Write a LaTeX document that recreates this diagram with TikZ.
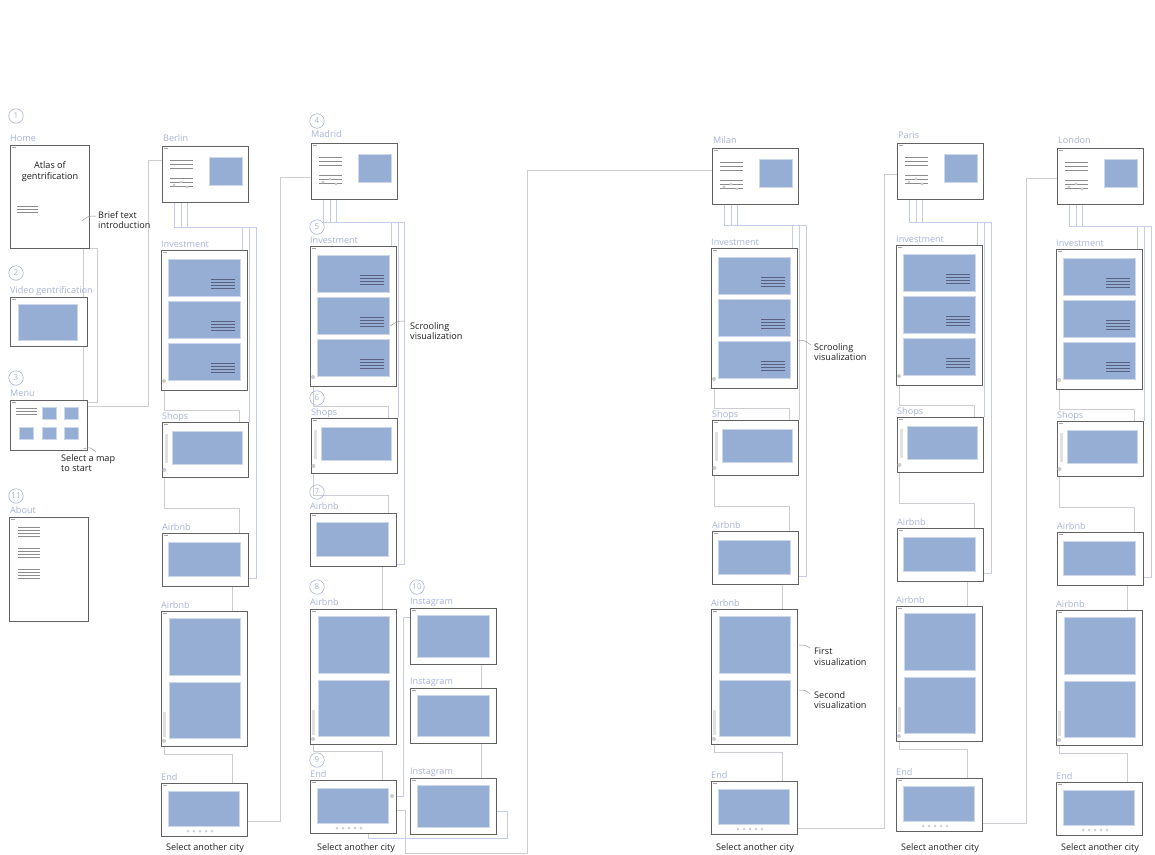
\documentclass[tikz,border=0pt]{standalone}
\usepackage{fontspec}
\setmainfont{Open Sans}
\usetikzlibrary{shadows,calc}
\pgfdeclarelayer{bg}
\pgfsetlayers{bg,main}
\definecolor{wfblue}{RGB}{151,174,212}
\definecolor{wfbedge}{RGB}{205,215,236}
\definecolor{wflabel}{RGB}{168,178,214}
\definecolor{wflav}{RGB}{198,204,232}
\definecolor{wfgray}{RGB}{204,204,210}
\definecolor{wfdark}{RGB}{88,98,128}
\tikzset{
  wf/.style={draw=black!62, line width=0.7pt, fill=white, anchor=north west, inner sep=0pt, outer sep=0pt,
    drop shadow={shadow xshift=1.2pt, shadow yshift=-1.2pt, opacity=0.35, fill=black!70}},
  panel/.style={fill=wfblue, draw=wfbedge, line width=0.5pt},
  tline/.style={draw=black!45, line width=0.5pt},
  dline/.style={draw=wfdark, line width=0.55pt},
  conn/.style={draw=wfgray, line width=0.6pt},
  connb/.style={draw=wflav, line width=0.6pt},
  lead/.style={draw=black!40, line width=0.5pt},
  lab/.style={text=wflabel, font=\fontsize{9.1}{10}\selectfont, anchor=base west, inner sep=0pt},
  note/.style={text=black!88, font=\fontsize{9.1}{10.5}\selectfont, anchor=north west, inner sep=0pt, align=left},
  num/.style={circle, draw=wflabel, text=wflabel, minimum size=14.5pt, inner sep=0pt, line width=0.6pt, font=\fontsize{8}{9}\selectfont},
  sdot/.style={fill=black!20},
  sbar/.style={fill=black!12},
}
% generic frame
\newcommand\wfbox[5]{%
  \node[wf, minimum width=#4pt, minimum height=#5pt] (#1) at (#2,#3) {};
  \draw[black!35, line width=0.4pt] ($(#2,#3)+(2,2.5)$) -- ++(4,0);
}
\newcommand\wfhead[3]{%
  \wfbox{#1}{#2}{#3}{86}{56}
  \begin{scope}[shift={(#2,#3)}]
    \foreach \yy in {14,18,22,32,36,40} \draw[tline] (8,\yy) -- (31,\yy);
    \draw[panel] (47,11) rectangle (80,39);
    \fill[sdot] (12,39) circle[radius=1.6] (19,36) circle[radius=1.6] (25,41) circle[radius=1.6];
  \end{scope}
}
\newcommand\wfinv[3]{%
  \wfbox{#1}{#2}{#3}{86}{140}
  \begin{scope}[shift={(#2,#3)}]
    \foreach \py in {9,51,93}{
      \draw[panel] (7,\py) rectangle (79,\py+37);
      \foreach \ly in {20,23,26,29} \draw[dline] (50,\py+\ly) -- (74,\py+\ly);
    }
    \fill[sdot] (3,131) circle[radius=2];
  \end{scope}
}
\newcommand\wfshop[3]{%
  \wfbox{#1}{#2}{#3}{86}{55}
  \begin{scope}[shift={(#2,#3)}]
    \fill[sbar] (2.5,12) rectangle (5.5,41);
    \draw[panel] (10,9) rectangle (80,42);
    \fill[sdot] (2.5,48) circle[radius=2];
  \end{scope}
}
\newcommand\wfabs[3]{%
  \wfbox{#1}{#2}{#3}{86}{53}
  \begin{scope}[shift={(#2,#3)}]
    \draw[panel] (6,9) rectangle (78,43);
  \end{scope}
}
\newcommand\wfabt[3]{%
  \wfbox{#1}{#2}{#3}{86}{135}
  \begin{scope}[shift={(#2,#3)}]
    \draw[panel] (8,7) rectangle (79,64);
    \draw[panel] (8,71) rectangle (79,127);
    \fill[sbar] (2,101) rectangle (5,126);
    \fill[sdot] (3,130) circle[radius=2];
  \end{scope}
}
\newcommand\wfend[3]{%
  \wfbox{#1}{#2}{#3}{86}{53}
  \begin{scope}[shift={(#2,#3)}]
    \draw[panel] (7,8) rectangle (78,43);
    \foreach \dx in {27,33,39,45,51} \fill[black!18] (\dx,48) circle[radius=1.5];
  \end{scope}
}
\newcommand\wfinsta[4]{% name x y h
  \wfbox{#1}{#2}{#3}{86}{#4}
  \begin{scope}[shift={(#2,#3)}]
    \draw[panel] (7,7) rectangle (79,#4-7);
  \end{scope}
}
% standard city column (Berlin geometry as base)
\newcommand\wfcol[5]{%
\begin{scope}[shift={(#3,#4)}]
  \begin{scope}[shift={(0,#5)}]
    \node[lab] (#1l0) at (163,141) {#2};
    \wfhead{#1h}{162}{146}
  \end{scope}
  \node[lab] (#1l1) at (161,247) {Investment};
  \wfinv{#1i}{161}{250}
  \node[lab] (#1l2) at (162,419) {Shops};
  \wfshop{#1s}{162}{422}
  \node[lab] (#1l3) at (162,530) {Airbnb};
  \wfabs{#1a}{162}{533}
  \node[lab] (#1l4) at (161,608) {Airbnb};
  \wfabt{#1b}{161}{611}
  \node[lab] (#1l5) at (161,780) {End};
  \wfend{#1e}{161}{783}
  \node[note, anchor=base] (#1sel) at (205,{850-(#4)}) {Select another city};
  \begin{pgfonlayer}{bg}
    \draw[connb] (174,185+#5) -- (174,227) -- (242,227) -- (242,250);
    \draw[connb] (181,182+#5) -- (181,227) -- (249,227) -- (249,422);
    \draw[connb] (187,187+#5) -- (187,227) -- (256,227) -- (256,578) -- (247,578);
    \draw[conn] (164,381) -- (164,410) -- (239,410) -- (239,422);
    \draw[conn] (164,470) -- (164,508) -- (239,508) -- (239,533);
    \draw[conn] (232,586) -- (232,611);
    \draw[conn] (164,741) -- (164,754) -- (232,754) -- (232,783);
  \end{pgfonlayer}
\end{scope}}

\begin{document}
\begin{tikzpicture}[x=1pt,y=-1pt]
\useasboundingbox (0,0) rectangle (1155,854);

% ---------- left column ----------
\node[num] (n1) at (16,116) {1};
\node[lab] (lhome) at (10,141) {Home};
\wfbox{home}{10}{145}{79}{103}
\node[font=\fontsize{9.1}{11}\selectfont, align=center, text=black!90, inner sep=0pt] (atlas) at (50,172) {Atlas of\\gentrification};
\foreach \yy in {206,209,212} \draw[tline] (17,\yy) -- (38,\yy);
\node[note] (nbrief) at (98,211) {Brief text\\introduction};

\node[num] (n2) at (16,273) {2};
\node[lab] (lvideo) at (10,293) {Video gentrification};
\wfbox{video}{10}{297}{77}{49}
\draw[panel] (18,304) rectangle (77,340);

\node[num] (n3) at (16,378) {3};
\node[lab] (lmenu) at (10,396) {Menu};
\wfbox{menu}{10}{400}{77}{50}
\foreach \yy in {408,411,414} \draw[tline] (16,\yy) -- (37,\yy);
\foreach \xx/\yy in {42/407,64/407,19/427,42/427,64/427} \draw[panel] (\xx,\yy) rectangle ++(14,12);
\node[note] (nmap) at (61,454) {Select a map\\to start};

\node[num] (n11) at (16,496) {11};
\node[lab] (labout) at (10,513) {About};
\wfbox{about}{9}{517}{79}{104}
\foreach \yy in {527,530,533,536,548,551,554,557,569,572,575,578} \draw[tline] (18,\yy) -- (40,\yy);

% ---------- Berlin ----------
\wfcol{ber}{Berlin}{0}{0}{0}

% ---------- Madrid ----------
\node[num] (n4) at (317,121) {4};
\node[lab] (lmad) at (311,137) {Madrid};
\wfhead{madh}{311}{143}
\node[num] (n5) at (317,227) {5};
\node[lab] (lmadi) at (310,243) {Investment};
\wfinv{madi}{310}{246}
\node[note] (nscr1) at (410,322) {Scrooling\\visualization};
\node[num] (n6) at (317,398) {6};
\node[lab] (lmads) at (311,415) {Shops};
\wfshop{mads}{311}{418}
\node[num] (n7) at (317,492) {7};
\node[lab] (lmada) at (310,509) {Airbnb};
\wfabs{mada}{310}{513}
\node[num] (n8) at (317,587) {8};
\node[lab] (lmadb) at (310,605) {Airbnb};
\wfabt{madb}{310}{609}
\node[num] (n9) at (317,760) {9};
\node[lab] (lmade) at (310,777) {End};
\wfend{made}{310}{780}
\fill[sdot] (392,796) circle[radius=2];
\node[note, anchor=base] (madsel) at (356,850) {Select another city};
\node[num] (n10) at (417,587) {10};
\node[lab] (lig1) at (410,604) {Instagram};
\wfinsta{ig1}{410}{608}{56}
\node[lab] (lig2) at (410,684) {Instagram};
\wfinsta{ig2}{410}{688}{55}
\node[lab] (lig3) at (410,774) {Instagram};
\wfinsta{ig3}{410}{778}{56}

% ---------- Milan, Paris, London ----------
\wfcol{mil}{Milan}{550}{-2}{4}
\node[note] (nscr2) at (814,343) {Scrooling\\visualization};
\node[note] (nfirst) at (814,648) {First\\visualization};
\node[note] (nsecond) at (814,691) {Second\\visualization};
\wfcol{par}{Paris}{735}{-5}{2}
\wfcol{lon}{London}{895}{-1}{3}

% ---------- connectors ----------
\begin{pgfonlayer}{bg}
  % left column
  \draw[conn] (83,248) rectangle (97,402);
  \draw[conn] (menu.east |- 0,406) -- (148,406) -- (148,160) -- (berh.west |- 0,160);
  % Berlin -> Madrid
  \draw[conn] (bere.east |- 0,821) -- (280,821) -- (280,177) -- (madh.west |- 0,177);
  % Madrid internal
  \draw[connb] (323,182) -- (323,222) -- (391,222) -- (391,246);
  \draw[connb] (330,179) -- (330,222) -- (398,222) -- (398,418);
  \draw[connb] (336,184) -- (336,222) -- (404,222) -- (404,564) -- (396,564);
  \draw[conn] (313,377) -- (313,406) -- (388,406) -- (388,418);
  \draw[conn] (313,466) -- (313,495) -- (388,495) -- (388,513);
  \draw[conn] (382,566) -- (382,609);
  \draw[conn] (313,739) -- (313,751) -- (382,751) -- (382,780);
  \draw[connb] (made.east |- 0,796) -- (403,796) -- (403,617) -- (ig1.west |- 0,617);
  \draw[conn] (ig1.south -| 481,0) -- (ig2.north -| 481,0);
  \draw[conn] (ig2.south -| 481,0) -- (ig3.north -| 481,0);
  \draw[connb] (ig3.east |- 0,811) -- (507,811) -- (507,838) -- (368,838) -- (made.south -| 368,0);
  % Madrid -> Milan
  \draw[conn] (made.east |- 0,810) -- (405,810) -- (405,853) -- (527,853) -- (527,170) -- (milh.west |- 0,170);
  % Milan -> Paris
  \draw[conn] (mile.east |- 0,828) -- (884,828) -- (884,174) -- (parh.west |- 0,174);
  % Paris -> London
  \draw[conn] (pare.east |- 0,823) -- (1026,823) -- (1026,178) -- (lonh.west |- 0,178);
\end{pgfonlayer}

% leader lines
\draw[lead] (82,221) .. controls (88,216) .. (96,216);
\draw[lead] (83,449) .. controls (90,447) .. (96,452);
\draw[lead] (390,326) .. controls (398,321) .. (405,321);
\draw[lead] (797,341) .. controls (804,340) .. (811,345);
\draw[lead] (799,645) .. controls (805,645) .. (810,648);
\draw[lead] (799,690) .. controls (805,690) .. (810,694);
\end{tikzpicture}
\end{document}
